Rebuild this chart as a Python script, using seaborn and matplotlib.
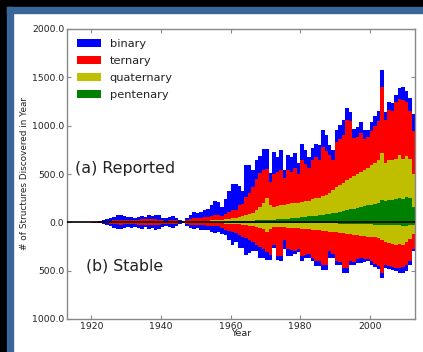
import numpy as np
import pandas as pd
import matplotlib
matplotlib.use("Agg")
import matplotlib.pyplot as plt
import seaborn as sns
from matplotlib.patches import Patch, Rectangle
from matplotlib.ticker import FuncFormatter

years = list(range(1920, 2013))

# (a) Reported
reported_binary = [
    3, 5, 6, 12, 18, 27, 38, 50, 52, 43,
    35, 35, 28, 32, 38, 25, 40, 40, 48, 47,
    28, 22, 30, 37, 20, 13, 7, 23, 45, 60,
    50, 60, 75, 80, 105, 150, 138, 90, 160, 210,
    275, 265, 205, 130, 325, 290, 170, 190, 180, 215,
    205, 90, 230, 160, 210, 80, 160, 160, 155, 110,
    175, 150, 120, 130, 135, 150, 175, 165, 100, 100,
    125, 145, 155, 120, 95, 100, 110, 120, 95, 75,
    90, 100, 100, 180, 85, 90, 80, 75, 105, 130,
    110, 140, 170]
reported_ternary = [
    2, 2, 3, 6, 9, 13, 16, 18, 20, 16,
    14, 17, 16, 20, 22, 21, 25, 21, 22, 20,
    16, 13, 18, 20, 14, 8, 5, 16, 26, 33,
    33, 35, 39, 42, 48, 50, 47, 45, 55, 75,
    85, 85, 120, 120, 185, 210, 270, 320, 350, 340,
    300, 240, 340, 350, 365, 280, 350, 325, 360, 295,
    425, 380, 335, 400, 430, 395, 510, 455, 400, 320,
    460, 470, 490, 620, 590, 390, 380, 400, 320, 320,
    360, 390, 410, 680, 450, 510, 510, 580, 580, 610,
    560, 490, 450]
reported_quaternary = [
    0, 1, 1, 2, 3, 4, 5, 6, 7, 5,
    5, 7, 5, 7, 8, 8, 8, 8, 8, 7,
    5, 4, 6, 7, 5, 3, 3, 5, 7, 10,
    9, 12, 12, 14, 17, 20, 19, 19, 23, 27,
    30, 35, 43, 56, 65, 73, 82, 110, 138, 176,
    225, 154, 132, 140, 143, 145, 152, 155, 155, 155,
    160, 160, 163, 175, 180, 180, 190, 200, 210, 235,
    270, 280, 290, 310, 325, 340, 350, 360, 375, 385,
    410, 420, 440, 490, 385, 415, 410, 415, 445, 420,
    430, 410, 340]
reported_pentenary = [
    0, 0, 0, 0, 0, 1, 1, 1, 1, 1,
    1, 1, 1, 1, 2, 1, 2, 1, 2, 1,
    1, 1, 1, 1, 1, 1, 0, 1, 2, 2,
    3, 3, 4, 4, 5, 5, 6, 6, 7, 8,
    10, 10, 12, 14, 15, 17, 18, 20, 22, 24,
    25, 26, 28, 30, 32, 35, 38, 40, 45, 50,
    55, 60, 62, 65, 70, 75, 80, 85, 90, 95,
    100, 110, 120, 130, 135, 140, 150, 160, 165, 175,
    180, 190, 200, 230, 225, 235, 230, 245, 255, 240,
    260, 250, 160]

# (b) Stable (drawn below zero)
stable_binary = [
    2, 4, 6, 11, 18, 25, 35, 43, 45, 40,
    32, 33, 27, 30, 37, 25, 40, 35, 52, 45,
    27, 20, 25, 33, 20, 10, 6, 22, 35, 42,
    35, 47, 48, 40, 55, 68, 63, 60, 50, 90,
    130, 90, 135, 120, 170, 140, 100, 70, 120, 90,
    80, 55, 35, 40, 50, 100, 70, 60, 30, 30,
    50, 30, 40, 30, 55, 55, 50, 50, 70, 40,
    40, 30, 55, 55, 40, 30, 40, 50, 30, 25,
    40, 30, 30, 55, 30, 30, 30, 30, 55, 65,
    60, 40, 20]
stable_ternary = [
    2, 2, 3, 6, 8, 12, 16, 17, 20, 16,
    14, 17, 14, 20, 22, 20, 24, 20, 22, 20,
    14, 12, 16, 17, 12, 8, 5, 14, 20, 22,
    19, 21, 24, 27, 31, 32, 32, 48, 66, 74,
    82, 90, 108, 125, 135, 145, 160, 185, 195, 210,
    210, 265, 180, 300, 300, 130, 225, 235, 245, 220,
    285, 275, 260, 295, 325, 320, 355, 350, 205, 230,
    295, 300, 355, 350, 275, 280, 245, 230, 235, 230,
    250, 275, 290, 345, 240, 240, 240, 240, 250, 230,
    240, 230, 160]
stable_quaternary = [
    0, 0, 1, 1, 2, 3, 4, 5, 5, 4,
    4, 5, 4, 5, 5, 5, 5, 5, 5, 5,
    4, 3, 4, 5, 3, 2, 1, 4, 4, 5,
    5, 6, 7, 7, 8, 9, 9, 10, 12, 14,
    16, 18, 19, 22, 27, 32, 36, 41, 51, 65,
    95, 65, 45, 44, 44, 44, 49, 48, 48, 53,
    57, 57, 62, 66, 66, 70, 75, 80, 84, 88,
    93, 97, 101, 105, 109, 113, 117, 120, 125, 128,
    128, 131, 135, 152, 172, 180, 190, 198, 188, 196,
    166, 138, 92]
stable_pentenary = [
    0, 0, 0, 0, 0, 0, 0, 0, 0, 0,
    0, 0, 0, 0, 1, 0, 1, 0, 1, 0,
    0, 0, 0, 0, 0, 0, 0, 0, 1, 1,
    1, 1, 1, 1, 1, 1, 1, 2, 2, 2,
    2, 2, 3, 3, 3, 3, 4, 4, 4, 5,
    5, 5, 5, 6, 6, 6, 6, 7, 7, 7,
    8, 8, 8, 9, 9, 10, 10, 10, 11, 12,
    12, 13, 14, 15, 16, 17, 18, 20, 20, 22,
    22, 24, 25, 28, 28, 30, 30, 32, 32, 34,
    34, 32, 28]

levels = ["binary", "ternary", "quaternary", "pentenary"]
colors = {"binary": "#0000ff", "ternary": "#ff0000",
          "quaternary": "#bfbf00", "pentenary": "#008000"}
x_ticks = [1920, 1940, 1960, 1980, 2000]
y_ticks = [-1000, -500, 0, 500, 1000, 1500, 2000]


def long_form(series, sign):
    frames = []
    for name, vals in zip(levels, series):
        frames.append(pd.DataFrame({"year": years,
                                    "count": sign * np.asarray(vals, float),
                                    "type": name}))
    return pd.concat(frames, ignore_index=True)


df_rep = long_form([reported_binary, reported_ternary,
                    reported_quaternary, reported_pentenary], 1)
df_sta = long_form([stable_binary, stable_ternary,
                    stable_quaternary, stable_pentenary], -1)

sns.set_style("ticks")
plt.rcParams["font.family"] = ["DejaVu Sans"]

fig = plt.figure(figsize=(4.23, 3.52), dpi=100)
fig.patch.set_facecolor("white")
W, H = 423.0, 352.0
blue = "#3b6698"
fig.patches.append(Rectangle((0, 1 - 7 / H), 1, 7 / H, transform=fig.transFigure,
                             color="black", zorder=0))
fig.patches.append(Rectangle((0, 0), 7 / W, 1, transform=fig.transFigure,
                             color="black", zorder=0))
fig.patches.append(Rectangle((7 / W, 1 - 13 / H), 1, 6 / H, transform=fig.transFigure,
                             color=blue, zorder=0))
fig.patches.append(Rectangle((7 / W, 0), 6 / W, 1 - 7 / H, transform=fig.transFigure,
                             color=blue, zorder=0))

ax = fig.add_axes([67 / W, 33 / H, 348 / W, 290 / H])
for df in (df_rep, df_sta):
    sns.histplot(data=df, x="year", weights="count", hue="type",
                 hue_order=levels, multiple="stack", binwidth=1,
                 binrange=(1920, 2013),
                 element="step", fill=True, palette=colors, alpha=1,
                 linewidth=0, legend=False, ax=ax)

ax.axhline(0, color="black", lw=1.2, zorder=5)
ax.set_xlim(1913, 2013)
ax.set_ylim(-1000, 2000)
ax.set_xticks(x_ticks)
ax.set_yticks(y_ticks)
ax.yaxis.set_major_formatter(FuncFormatter(lambda v, p: f"{abs(v):.1f}"))
ax.tick_params(direction="in", length=3, width=0.8, colors="#888888",
               labelcolor="#222222", labelsize=6.7, top=True, right=True, pad=2)
for s in ax.spines.values():
    s.set_color("#888888")
    s.set_linewidth(1.0)
ax.set_xlabel("Year", fontsize=6.8, labelpad=-1, color="#222222")
ax.set_ylabel("# of Structures Discovered in Year", fontsize=6.4,
              labelpad=2, color="#222222")

ax.text(1915.3, 561, "(a) Reported", fontsize=11.4, va="center", ha="left",
        color="#222222")
ax.text(1918.5, -452, "(b) Stable", fontsize=11.3, va="center", ha="left",
        color="#222222")

handles = [Patch(facecolor=colors[k], edgecolor="none", label=k) for k in levels]
ax.legend(handles=handles, loc="upper left", bbox_to_anchor=(0, 1),
          borderaxespad=0, borderpad=0.85, frameon=False, fontsize=8.2,
          handlelength=2.1, handleheight=0.7, handletextpad=0.8,
          labelspacing=0.62, labelcolor="#222222")

fig.savefig("out.png", dpi=100)
